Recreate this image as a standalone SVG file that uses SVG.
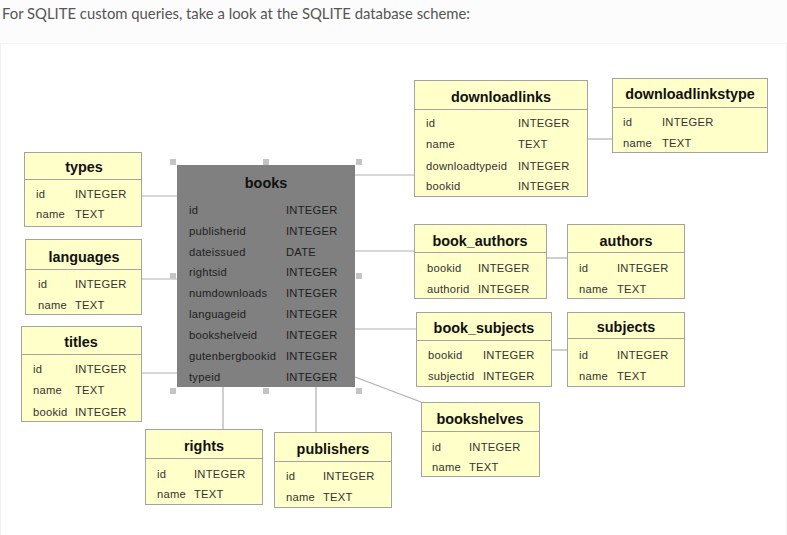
<svg xmlns="http://www.w3.org/2000/svg" width="787" height="535" viewBox="0 0 787 535">
<style>
.box{fill:#ffffc9;stroke:#a3a3a3;stroke-width:1}
.div{stroke:#a3a3a3;stroke-width:1}
.ttl{font-family:"Liberation Sans",Arial,sans-serif;font-weight:bold;font-size:14.4px;fill:#111;text-anchor:middle}
.f{font-family:"Liberation Sans",Arial,sans-serif;font-size:11.2px;fill:#333;letter-spacing:0.25px}
.bf{font-family:"Liberation Sans",Arial,sans-serif;font-size:11.2px;fill:#1e1e1e;letter-spacing:0.25px}
.conn line{stroke:#b0b0b0;stroke-width:1.2;fill:none}
.h{fill:#c4c4c4}
</style>
<rect x="0" y="0" width="787" height="535" fill="#fcfcfc"/>
<rect x="0.5" y="43.5" width="786" height="492" fill="#ffffff" stroke="#f2f2f2"/>
<text x="2" y="19" font-family="Lato,'Open Sans',sans-serif" font-size="15" fill="#555" textLength="468" lengthAdjust="spacingAndGlyphs">For SQLITE custom queries, take a look at the SQLITE database scheme:</text>

<g id="connectors" class="conn">
<line x1="142" y1="196" x2="177" y2="196"/>
<line x1="142" y1="279" x2="177" y2="279"/>
<line x1="142" y1="373" x2="177" y2="373"/>
<line x1="355" y1="175" x2="414" y2="175"/>
<line x1="588" y1="139" x2="612" y2="139"/>
<line x1="355" y1="251" x2="416" y2="251"/>
<line x1="547" y1="258" x2="567" y2="258"/>
<line x1="355" y1="329" x2="418" y2="329"/>
<line x1="552" y1="350" x2="567" y2="350"/>
<line x1="355" y1="377" x2="421" y2="402"/>
<line x1="223" y1="387" x2="223" y2="429"/>
<line x1="316" y1="387" x2="316" y2="432"/>
</g>

<g id="books">
<rect x="177" y="165" width="178" height="222" fill="#808080"/>
<rect class="h" x="170" y="159" width="6" height="6"/>
<rect class="h" x="263" y="159" width="6" height="6"/>
<rect class="h" x="356" y="159" width="6" height="6"/>
<rect class="h" x="170" y="273" width="6" height="6"/>
<rect class="h" x="356" y="273" width="6" height="6"/>
<rect class="h" x="170" y="388" width="6" height="6"/>
<rect class="h" x="263" y="388" width="6" height="6"/>
<rect class="h" x="356" y="388" width="6" height="6"/>
<text class="ttl" x="266" y="188">books</text>
<text class="bf" x="189" y="214">id</text><text class="bf" x="286" y="214">INTEGER</text>
<text class="bf" x="189" y="235">publisherid</text><text class="bf" x="286" y="235">INTEGER</text>
<text class="bf" x="189" y="256">dateissued</text><text class="bf" x="286" y="256">DATE</text>
<text class="bf" x="189" y="276">rightsid</text><text class="bf" x="286" y="276">INTEGER</text>
<text class="bf" x="189" y="297">numdownloads</text><text class="bf" x="286" y="297">INTEGER</text>
<text class="bf" x="189" y="318">languageid</text><text class="bf" x="286" y="318">INTEGER</text>
<text class="bf" x="189" y="339">bookshelveid</text><text class="bf" x="286" y="339">INTEGER</text>
<text class="bf" x="189" y="360">gutenbergbookid</text><text class="bf" x="286" y="360">INTEGER</text>
<text class="bf" x="189" y="381">typeid</text><text class="bf" x="286" y="381">INTEGER</text>
</g>

<g id="types">
<rect class="box" x="24.5" y="152.5" width="117" height="74"/>
<line class="div" x1="24.5" y1="179.5" x2="141.5" y2="179.5"/>
<text class="ttl" x="84" y="172">types</text>
<text class="f" x="36" y="198">id</text><text class="f" x="75" y="198">INTEGER</text>
<text class="f" x="36" y="218">name</text><text class="f" x="75" y="218">TEXT</text>
</g>

<g id="languages">
<rect class="box" x="25.5" y="239.5" width="116" height="75"/>
<line class="div" x1="25.5" y1="269.5" x2="141.5" y2="269.5"/>
<text class="ttl" x="84" y="262">languages</text>
<text class="f" x="38" y="288">id</text><text class="f" x="75" y="288">INTEGER</text>
<text class="f" x="38" y="309">name</text><text class="f" x="75" y="309">TEXT</text>
</g>

<g id="titles">
<rect class="box" x="21.5" y="326.5" width="120" height="95"/>
<line class="div" x1="21.5" y1="354.5" x2="141.5" y2="354.5"/>
<text class="ttl" x="81" y="347">titles</text>
<text class="f" x="33" y="373">id</text><text class="f" x="75" y="373">INTEGER</text>
<text class="f" x="33" y="394">name</text><text class="f" x="75" y="394">TEXT</text>
<text class="f" x="33" y="416">bookid</text><text class="f" x="75" y="416">INTEGER</text>
</g>

<g id="rights">
<rect class="box" x="145.5" y="429.5" width="117" height="75"/>
<line class="div" x1="145.5" y1="458.5" x2="262.5" y2="458.5"/>
<text class="ttl" x="204" y="451">rights</text>
<text class="f" x="157" y="478">id</text><text class="f" x="194" y="478">INTEGER</text>
<text class="f" x="157" y="498">name</text><text class="f" x="194" y="498">TEXT</text>
</g>

<g id="publishers">
<rect class="box" x="274.5" y="432.5" width="117" height="75"/>
<line class="div" x1="274.5" y1="461.5" x2="391.5" y2="461.5"/>
<text class="ttl" x="333" y="454">publishers</text>
<text class="f" x="286" y="480">id</text><text class="f" x="323" y="480">INTEGER</text>
<text class="f" x="286" y="501">name</text><text class="f" x="323" y="501">TEXT</text>
</g>

<g id="downloadlinks">
<rect class="box" x="414.5" y="80.5" width="173" height="116"/>
<line class="div" x1="414.5" y1="109.5" x2="587.5" y2="109.5"/>
<text class="ttl" x="501" y="102">downloadlinks</text>
<text class="f" x="426" y="127">id</text><text class="f" x="518" y="127">INTEGER</text>
<text class="f" x="426" y="148">name</text><text class="f" x="518" y="148">TEXT</text>
<text class="f" x="426" y="170">downloadtypeid</text><text class="f" x="518" y="170">INTEGER</text>
<text class="f" x="426" y="190">bookid</text><text class="f" x="518" y="190">INTEGER</text>
</g>

<g id="downloadlinkstype">
<rect class="box" x="612.5" y="78.5" width="155" height="74"/>
<line class="div" x1="612.5" y1="107.5" x2="767.5" y2="107.5"/>
<text class="ttl" x="690" y="99">downloadlinkstype</text>
<text class="f" x="623" y="126">id</text><text class="f" x="662" y="126">INTEGER</text>
<text class="f" x="623" y="147">name</text><text class="f" x="662" y="147">TEXT</text>
</g>

<g id="book_authors">
<rect class="box" x="414.5" y="224.5" width="132" height="74"/>
<line class="div" x1="414.5" y1="252.5" x2="546.5" y2="252.5"/>
<text class="ttl" x="480" y="246">book_authors</text>
<text class="f" x="427" y="272">bookid</text><text class="f" x="478" y="272">INTEGER</text>
<text class="f" x="427" y="293">authorid</text><text class="f" x="478" y="293">INTEGER</text>
</g>

<g id="authors">
<rect class="box" x="567.5" y="224.5" width="117" height="74"/>
<line class="div" x1="567.5" y1="252.5" x2="684.5" y2="252.5"/>
<text class="ttl" x="626" y="246">authors</text>
<text class="f" x="579" y="272">id</text><text class="f" x="617" y="272">INTEGER</text>
<text class="f" x="579" y="293">name</text><text class="f" x="617" y="293">TEXT</text>
</g>

<g id="book_subjects">
<rect class="box" x="416.5" y="312.5" width="135" height="74"/>
<line class="div" x1="416.5" y1="340.5" x2="551.5" y2="340.5"/>
<text class="ttl" x="484" y="333">book_subjects</text>
<text class="f" x="428" y="359">bookid</text><text class="f" x="483" y="359">INTEGER</text>
<text class="f" x="428" y="380">subjectid</text><text class="f" x="483" y="380">INTEGER</text>
</g>

<g id="subjects">
<rect class="box" x="567.5" y="312.5" width="117" height="74"/>
<line class="div" x1="567.5" y1="338.5" x2="684.5" y2="338.5"/>
<text class="ttl" x="626" y="332">subjects</text>
<text class="f" x="579" y="359">id</text><text class="f" x="617" y="359">INTEGER</text>
<text class="f" x="579" y="380">name</text><text class="f" x="617" y="380">TEXT</text>
</g>

<g id="bookshelves">
<rect class="box" x="421.5" y="402.5" width="118" height="74"/>
<line class="div" x1="421.5" y1="431.5" x2="539.5" y2="431.5"/>
<text class="ttl" x="480" y="424">bookshelves</text>
<text class="f" x="432" y="451">id</text><text class="f" x="469" y="451">INTEGER</text>
<text class="f" x="432" y="471">name</text><text class="f" x="469" y="471">TEXT</text>
</g>
</svg>
